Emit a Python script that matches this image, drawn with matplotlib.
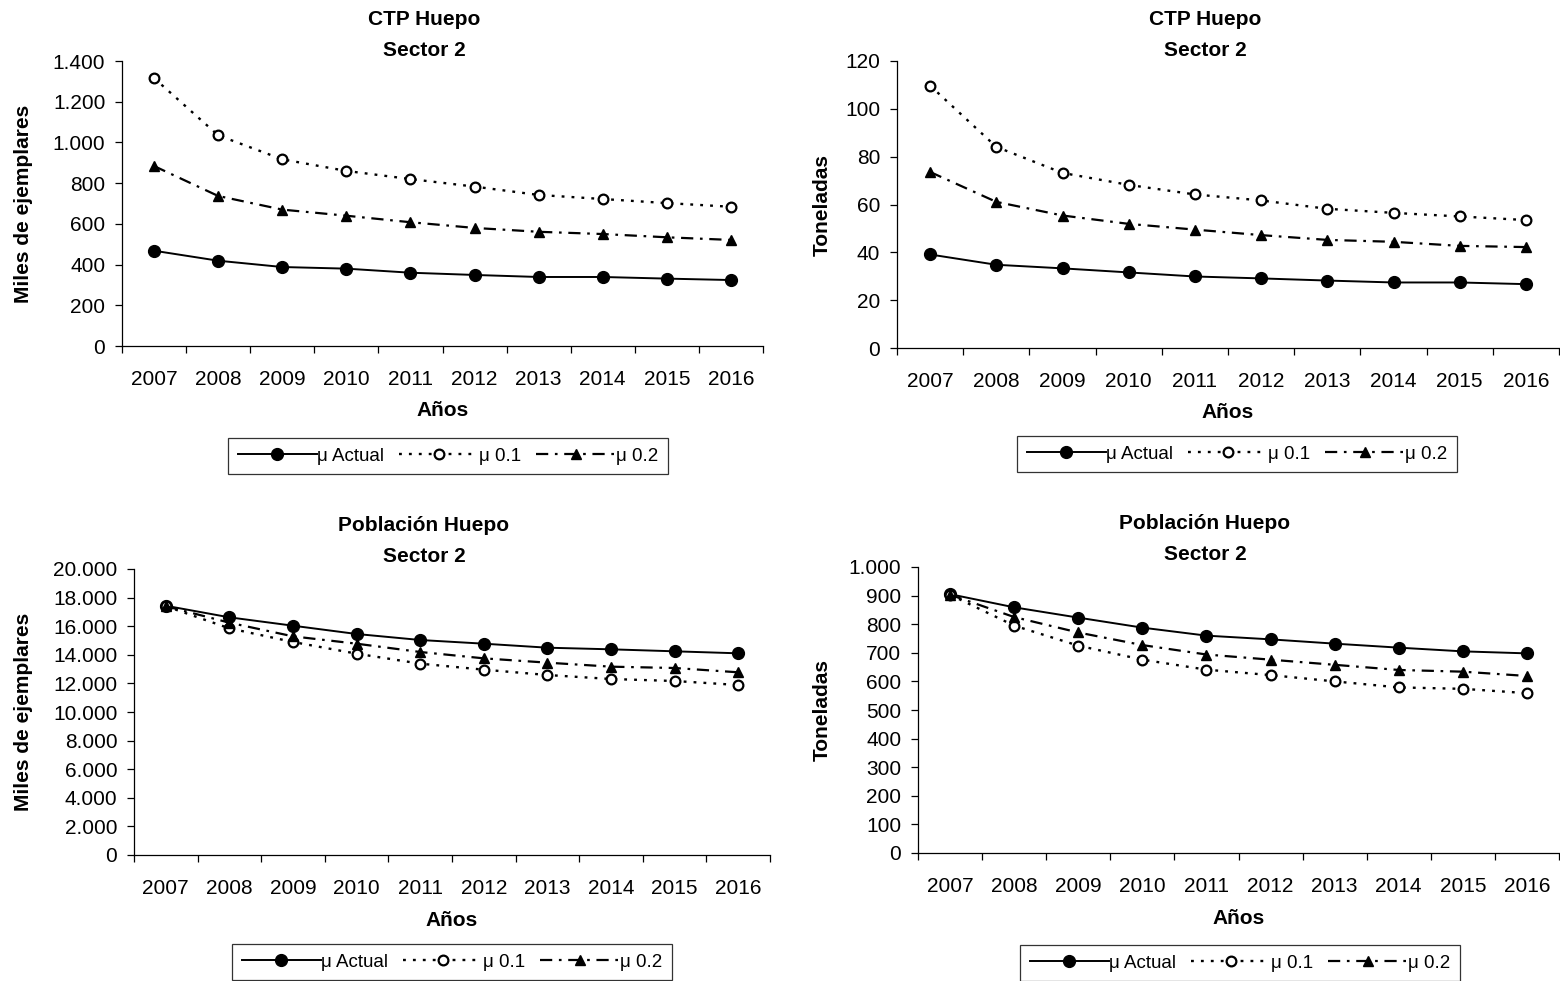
import matplotlib
matplotlib.use('Agg')
import matplotlib.pyplot as plt
from matplotlib.ticker import FuncFormatter, FixedLocator

plt.rcParams['font.family'] = ['Liberation Sans', 'DejaVu Sans']

# datos
anios = ['2007', '2008', '2009', '2010', '2011', '2012', '2013', '2014', '2015', '2016']
series = ['\u03bc Actual', '\u03bc 0.1', '\u03bc 0.2']

# CTP Huepo - miles de ejemplares
ctp_ej_actual = [468, 419, 388, 380, 360, 349, 339, 339, 331, 324]
ctp_ej_01 = [1316, 1035, 917, 860, 820, 783, 742, 722, 702, 684]
ctp_ej_02 = [884, 737, 670, 640, 608, 580, 561, 550, 534, 521]

# CTP Huepo - toneladas
ctp_t_actual = [39.1, 34.8, 33.3, 31.6, 29.9, 29.1, 28.2, 27.4, 27.4, 26.7]
ctp_t_01 = [109.7, 84.1, 73.2, 68.2, 64.2, 61.7, 58.2, 56.5, 55.0, 53.5]
ctp_t_02 = [73.6, 61.1, 55.4, 51.9, 49.5, 47.2, 45.2, 44.4, 42.7, 42.2]

# Poblacion Huepo - miles de ejemplares
pob_ej_actual = [17430, 16620, 16035, 15455, 15035, 14777, 14497, 14383, 14244, 14104]
pob_ej_01 = [17400, 15850, 14895, 14080, 13380, 12960, 12587, 12307, 12168, 11888]
pob_ej_02 = [17400, 16245, 15290, 14777, 14196, 13752, 13450, 13170, 13077, 12776]

# Poblacion Huepo - toneladas
pob_t_actual = [905, 859, 823, 788, 760, 747, 732, 718, 705, 698]
pob_t_01 = [903, 795, 725, 676, 641, 622, 600, 579, 574, 559]
pob_t_02 = [903, 825, 771, 727, 694, 676, 658, 640, 634, 619]

W, H = 1560, 981
fig = plt.figure(figsize=(15.6, 9.81), dpi=100)


def px_axes(x0, y0, x1, y1):
    # caja en pixeles (origen arriba a la izquierda)
    return fig.add_axes([x0 / W, 1 - y1 / H, (x1 - x0) / W, (y1 - y0) / H])


def miles(v, pos):
    if v == int(v):
        return f'{int(v):,}'.replace(',', '.')
    return str(v)


def panel(box, titulo, ylabel, datos, ymax, paso, tcx, ty, ylx, legc):
    ax = px_axes(*box)
    x = [i + 0.5 for i in range(len(anios))]
    a, b, c = datos
    ax.plot(x, a, color='black', lw=1.4, ls='-', marker='o', ms=8.5,
            label=series[0])
    ax.plot(x, b, color='black', lw=1.7, ls=(0, (1.2, 3.0)), marker='o', ms=7,
            mfc='white', mew=1.6, label=series[1])
    ax.plot(x, c, color='black', lw=1.6, ls=(0, (5.5, 3, 1.2, 3)), marker='^', ms=7,
            label=series[2])
    ax.set_xlim(0, len(anios))
    ax.set_ylim(0, ymax)
    ax.spines['top'].set_visible(False)
    ax.spines['right'].set_visible(False)
    ax.spines['left'].set_linewidth(0.9)
    ax.spines['bottom'].set_linewidth(0.9)
    ax.xaxis.set_major_locator(FixedLocator(range(len(anios) + 1)))
    ax.xaxis.set_minor_locator(FixedLocator(x))
    ax.set_xticklabels([], minor=False)
    ax.set_xticklabels(anios, minor=True)
    ax.tick_params(axis='x', which='major', direction='out', length=5, width=0.9)
    ax.tick_params(axis='x', which='minor', length=0, pad=17, labelsize=15)
    ax.set_yticks([v for v in range(0, int(ymax) + 1, paso)])
    ax.yaxis.set_major_formatter(FuncFormatter(miles))
    ax.tick_params(axis='y', direction='out', length=5, width=0.9, pad=7, labelsize=15)
    fig.text(tcx / W, 1 - ty / H, titulo, ha='center', va='center',
             fontsize=15, fontweight='bold', linespacing=1.75)
    xc = (box[0] + box[2]) / 2
    fig.text(xc / W, 1 - (box[3] + 65) / H, 'A\u00f1os', ha='center', va='center',
             fontsize=15, fontweight='bold')
    fig.text(ylx / W, 1 - ((box[1] + box[3]) / 2) / H, ylabel, ha='center', va='center',
             rotation=90, fontsize=15, fontweight='bold')
    leg = fig.legend(handles=ax.get_lines(), loc='center', ncol=3,
                     bbox_to_anchor=(legc[0] / W, 1 - legc[1] / H),
                     fontsize=13.5, frameon=True, fancybox=False, edgecolor='black',
                     handlelength=4.2, handletextpad=0.05, columnspacing=0.8,
                     borderpad=0.5, borderaxespad=0)
    leg.get_frame().set_linewidth(0.9)
    return ax


panel((122, 61, 763, 346), 'CTP Huepo\nSector 2', 'Miles de ejemplares',
      (ctp_ej_actual, ctp_ej_01, ctp_ej_02), 1400, 200, 424, 35, 24, (448, 456))
panel((897, 61, 1559, 348), 'CTP Huepo\nSector 2', 'Toneladas',
      (ctp_t_actual, ctp_t_01, ctp_t_02), 120, 20, 1205, 35, 822, (1237, 454))
panel((134, 569, 770, 855), 'Poblaci\u00f3n Huepo\nSector 2', 'Miles de ejemplares',
      (pob_ej_actual, pob_ej_01, pob_ej_02), 20000, 2000, 424, 541, 24, (452, 962))
panel((918, 567, 1559, 853), 'Poblaci\u00f3n Huepo\nSector 2', 'Toneladas',
      (pob_t_actual, pob_t_01, pob_t_02), 1000, 100, 1205, 539, 822, (1240, 963))

plt.savefig('out.png', dpi=100)
